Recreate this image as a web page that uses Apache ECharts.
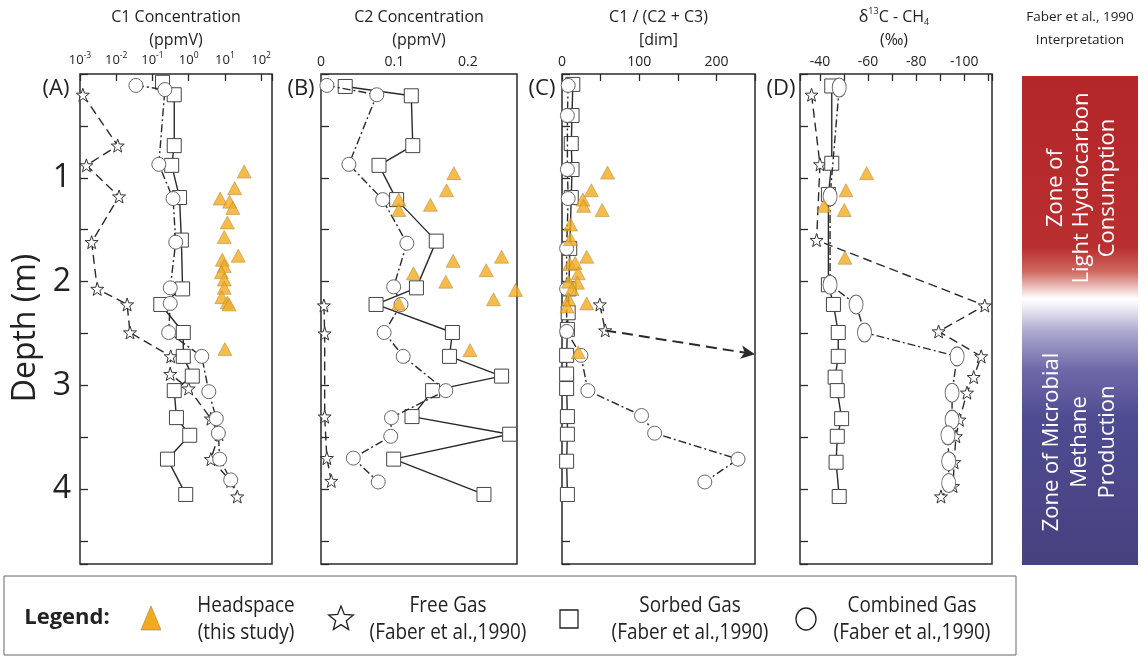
<!DOCTYPE html>
<html>
<head>
<meta charset="utf-8">
<script src="https://cdn.jsdelivr.net/npm/echarts@6/dist/echarts.min.js"></script>
<style>
html,body{margin:0;padding:0;background:#fff;}
#chart{width:1148px;height:659px;}
</style>
</head>
<body>
<div id="chart"></div>
<script>
// ---------- DATA: [depth (m), value] ----------
// Panel A: C1 concentration (ppmV, log scale)
const c1Free = [[0.2,0.0012],[0.69,0.011],[0.88,0.0015],[1.18,0.012],[1.62,0.0021],[2.07,0.003],[2.22,0.02],[2.49,0.024],[2.72,0.32],[2.89,0.31],[3.03,1.0],[3.32,4.1],[3.47,6.9],[3.71,4.1],[3.92,14.5],[4.07,22]];
const c1Sorbed = [[0.08,0.19],[0.2,0.40],[0.69,0.40],[0.88,0.34],[1.19,0.56],[1.6,0.63],[2.07,0.68],[2.22,0.17],[2.49,0.71],[2.72,0.71],[2.91,1.26],[3.05,0.40],[3.31,0.46],[3.48,1.07],[3.71,0.26],[4.05,0.83]];
const c1Combined = [[0.11,0.035],[0.15,0.22],[0.87,0.15],[1.2,0.37],[1.62,0.44],[2.06,0.31],[2.21,0.31],[2.49,0.28],[2.72,2.3],[3.06,3.6],[3.32,5.8],[3.46,6.6],[3.71,7.2],[3.91,14.5]];
const c1Headspace = [[0.94,34],[1.10,18.6],[1.20,7.4],[1.23,13.5],[1.29,16.6],[1.43,11.7],[1.57,9.6],[1.75,23.4],[1.79,8.5],[1.85,9.6],[1.91,8.0],[1.98,9.6],[2.06,9.6],[2.15,8.2],[2.2,11.7],[2.22,13],[2.65,10]];
// Panel B: C2 concentration (ppmV)
const c2Free = [[2.23,0.004],[2.5,0.005],[3.3,0.005],[3.7,0.008],[3.92,0.014]];
const c2Sorbed = [[0.12,0.033],[0.21,0.123],[0.69,0.125],[0.88,0.079],[1.21,0.103],[1.61,0.157],[2.06,0.130],[2.22,0.075],[2.49,0.179],[2.72,0.175],[2.91,0.246],[3.05,0.152],[3.30,0.124],[3.47,0.257],[3.71,0.099],[4.05,0.222]];
const c2Combined = [[0.11,0.008],[0.2,0.076],[0.87,0.038],[1.21,0.084],[1.63,0.117],[2.05,0.099],[2.22,0.109],[2.49,0.086],[2.72,0.112],[3.05,0.170],[3.31,0.096],[3.49,0.095],[3.7,0.044],[3.93,0.078]];
const c2Headspace = [[0.955,0.181],[1.12,0.171],[1.21,0.106],[1.26,0.149],[1.31,0.106],[1.76,0.246],[1.80,0.18],[1.89,0.225],[1.92,0.126],[2.0,0.170],[2.08,0.265],[2.17,0.235],[2.21,0.106],[2.66,0.203]];
// Panel C: C1/(C2+C3)
const ratioFree = [[2.22,49],[2.47,56]];
const ratioFreeOffscale = [[2.47,56],[2.70,250]];
const ratioSorbed = [[0.1,14],[0.4,13],[0.67,12],[0.92,13],[1.19,12],[1.68,10],[2.07,9],[2.3,8],[2.46,7],[2.71,6],[2.89,6],[3.03,6],[3.3,7],[3.47,7],[3.73,6],[4.05,7]];
const ratioCombined = [[0.11,8],[0.4,7],[0.92,7],[1.2,8],[1.68,6],[2.07,6],[2.48,6],[2.71,24.5],[3.05,33.5],[3.29,103],[3.46,120],[3.71,228],[3.93,185]];
const ratioHeadspace = [[0.95,59],[1.12,38],[1.21,27],[1.27,28],[1.31,52],[1.45,11],[1.59,11],[1.76,32],[1.83,10],[1.82,17],[1.92,21],[2.0,8.5],[2.01,20],[2.07,13],[2.17,8.5],[2.24,6.5],[2.21,32],[2.68,21]];
// Panel D: d13C-CH4 (permil)
const isoFree = [[0.2,-36.5],[0.87,-40],[1.6,-38.6],[2.23,-108.5],[2.48,-89.3],[2.72,-107],[2.92,-103.9],[3.07,-101.1],[3.33,-98],[3.49,-96.5],[3.74,-95.8],[3.97,-95.3],[4.07,-90.3]];
const isoSorbed = [[0.115,-44.9],[0.86,-44.9],[1.16,-43.5],[2.03,-43.5],[2.22,-45.6],[2.49,-47.6],[2.72,-47.6],[2.92,-46.3],[3.05,-47.2],[3.32,-49],[3.49,-47.2],[3.74,-46.7],[4.07,-48]];
const isoCombined = [[0.13,-48],[1.18,-44.2],[2.03,-44.2],[2.22,-55],[2.49,-58.5],[2.72,-97],[3.07,-94.9],[3.33,-94.9],[3.48,-93.2],[3.73,-93.5],[3.94,-93.5]];
const isoHeadspace = [[0.955,-59.4],[1.12,-50.8],[1.27,-41.7],[1.31,-50.1],[1.77,-50.4]];

const panelTitles = [['C1 Concentration','(ppmV)'],['C2 Concentration','(ppmV)'],['C1 / (C2 + C3)','[dim]'],['δ13C - CH4','(‰)']];
const panelLetters = ['(A)','(B)','(C)','(D)'];
const depthLabels = [1,2,3,4];
const legendItems = [['Headspace','(this study)'],['Free Gas','(Faber et al.,1990)'],['Sorbed Gas','(Faber et al.,1990)'],['Combined Gas','(Faber et al.,1990)']];
const zoneTexts = ['Zone of\nLight Hydrocarbon\nConsumption','Zone of Microbial\nMethane\nProduction'];

// ---------- LAYOUT ----------
const FONT = '"Open Sans", "Noto Sans", sans-serif';
const NARROW = '"Liberation Sans Narrow", "Open Sans", sans-serif';
const grids = [
  {left:80, top:74, width:192, height:490},
  {left:321, top:74, width:196, height:490},
  {left:562, top:74, width:193, height:490},
  {left:800, top:74, width:192, height:490}
];
const STAR = 'path://M0,-10 L2.35,-3.24 L9.51,-3.09 L3.8,1.24 L5.88,8.09 L0,4.2 L-5.88,8.09 L-3.8,1.24 L-9.51,-3.09 L-2.35,-3.24 Z';
const INK = '#2a2a2a';

function flip(arr){ return arr.map(p => [p[1], p[0]]); }

function lineSeries(kind, gi, arr, extra){
  const base = {type:'line', xAxisIndex:gi, yAxisIndex:gi, data:flip(arr), silent:true, showSymbol:true, z:2};
  if (kind==='free') Object.assign(base,{symbol:STAR, symbolSize:13, lineStyle:{color:INK,width:1.4,type:[9,5]}, itemStyle:{color:'#fff',borderColor:'#333',borderWidth:1}});
  if (kind==='sorbed') Object.assign(base,{symbol:'rect', symbolSize:14, lineStyle:{color:INK,width:1.4,type:'solid'}, itemStyle:{color:'#fff',borderColor:'#444',borderWidth:1}, z:3});
  if (kind==='combined') Object.assign(base,{symbol:'circle', symbolSize:gi===3?[14,19]:14, lineStyle:{color:INK,width:1.4,type:[8,3,2,3]}, itemStyle:{color:'#fff',borderColor:'#666',borderWidth:1}, z:4});
  if (kind==='head') Object.assign(base,{type:'scatter', symbol:'triangle', symbolSize:[14,13], itemStyle:{color:'#f2ab1f',borderColor:'#a8802e',borderWidth:0.6}, z:5});
  return Object.assign(base, extra||{});
}

function yAxisFor(i){
  return {
    type:'value', gridIndex:i, inverse:true, min:0, max:4.72, interval:0.5,
    axisLine:{show:false}, splitLine:{show:false},
    axisTick:{show:true, inside:true, length:8, lineStyle:{color:INK,width:1.3}},
    axisLabel:{show:i===0, margin:9, fontSize:32, color:'#222', fontFamily:FONT,
      formatter: v => depthLabels.indexOf(v)>=0 ? String(v) : ''}
  };
}

const labelBase = {fontSize:13, color:'#222', fontFamily:FONT, margin:5};
const xAxes = [
  {type:'log', logBase:10, gridIndex:0, position:'top', min:0.001, max:200,
   axisLine:{show:false}, splitLine:{show:false},
   axisTick:{show:true, inside:true, length:7, lineStyle:{color:INK,width:1.3}},
   axisLabel:Object.assign({}, labelBase, {
     formatter: v => { const l=Math.log10(v), e=Math.round(l); if (Math.abs(l-e)>1e-6) return ''; return '{b|10}{s|'+e+'}'; },
     rich:{b:{fontSize:13,lineHeight:18,fontFamily:FONT,color:'#222'}, s:{fontSize:8.5,lineHeight:10,verticalAlign:'top',fontFamily:FONT,color:'#222'}}
   })},
  {type:'value', gridIndex:1, position:'top', min:0, max:0.267, interval:0.1,
   axisLine:{show:false}, splitLine:{show:false}, axisTick:{show:false},
   axisLabel:Object.assign({}, labelBase, {fontSize:14, formatter: v => { const t=Math.round(v*10); return Math.abs(v*10-t)<1e-6 && t<=2 ? (t===0?'0':String(t/10)) : ''; }})},
  {type:'value', gridIndex:2, position:'top', min:0, max:250, interval:50,
   axisLine:{show:false}, splitLine:{show:false},
   axisTick:{show:true, inside:true, length:7, lineStyle:{color:INK,width:1.3}},
   axisLabel:Object.assign({}, labelBase, {fontSize:14, formatter: v => (v%100===0 && v<=200) ? String(v) : ''})},
  {type:'value', gridIndex:3, position:'top', inverse:true, min:-111.5, max:-31.7, splitNumber:8,
   axisLine:{show:false}, splitLine:{show:false},
   axisTick:{show:true, inside:true, length:7, lineStyle:{color:INK,width:1.3}},
   axisLabel:Object.assign({}, labelBase, {fontSize:14, formatter: v => (Math.abs(v%20)<1e-6 && v<=-40 && v>=-100) ? String(v) : ''})}
];

const series = [
  lineSeries('free',0,c1Free), lineSeries('sorbed',0,c1Sorbed), lineSeries('combined',0,c1Combined), lineSeries('head',0,c1Headspace),
  lineSeries('free',1,c2Free), lineSeries('sorbed',1,c2Sorbed), lineSeries('combined',1,c2Combined), lineSeries('head',1,c2Headspace),
  lineSeries('free',2,ratioFree,{markLine:{silent:true, symbol:['none','arrow'], symbolSize:[10,14], label:{show:false},
     lineStyle:{color:INK,width:2,type:[11,6]},
     data:[[{coord:flip(ratioFreeOffscale)[0]},{coord:flip(ratioFreeOffscale)[1]}]]}}),
  lineSeries('sorbed',2,ratioSorbed), lineSeries('combined',2,ratioCombined), lineSeries('head',2,ratioHeadspace),
  lineSeries('free',3,isoFree), lineSeries('sorbed',3,isoSorbed), lineSeries('combined',3,isoCombined), lineSeries('head',3,isoHeadspace)
];

// ---------- GRAPHICS (titles, labels, zone bar, legend) ----------
const graphic = [];
function txt(x,y,text,font,opts){
  graphic.push(Object.assign({type:'text', x:x, y:y, silent:true,
    style:Object.assign({text:text, font:font, fill:'#222', align:'center', verticalAlign:'middle', textAlign:'center', textVerticalAlign:'middle'}, (opts&&opts.style)||{})},
    opts&&opts.el||{}));
}
const centers = grids.map(g => g.left + g.width/2);
panelTitles.forEach((t,i) => {
  if (i===3){
    graphic.push({type:'text', x:894, y:17, silent:true, style:{text:'{n|δ}{u|13}{n|C - CH}{d|4}', align:'center', verticalAlign:'middle', textAlign:'center', textVerticalAlign:'middle',
      rich:{n:{fontSize:16,lineHeight:20,fontFamily:FONT,fill:'#222',color:'#222'}, u:{fontSize:9,lineHeight:11,verticalAlign:'top',fontFamily:FONT,fill:'#222',color:'#222'}, d:{fontSize:9,lineHeight:10,verticalAlign:'bottom',fontFamily:FONT,fill:'#222',color:'#222'}}}});
  } else {
    txt(centers[i], 17, t[0], '16px '+FONT);
  }
  txt(i===3?894:centers[i], 40, t[1], '16px '+FONT);
});
const letterX = [56,301,542,781];
panelLetters.forEach((l,i) => txt(letterX[i], 89, l, '22px '+FONT));
txt(26, 328, 'Depth (m)', '32px '+FONT, {el:{rotation:Math.PI/2}});
txt(1080, 17, 'Faber et al., 1990', '13.5px '+FONT);
txt(1080, 40, 'Interpretation', '13.5px '+FONT);
graphic.push({type:'rect', silent:true, shape:{x:1022,y:76,width:116,height:489},
  style:{fill:new echarts.graphic.LinearGradient(0,0,0,1,[
    {offset:0,color:'#b3262a'},{offset:0.35,color:'#b92e2f'},{offset:0.40,color:'#cf6a60'},{offset:0.455,color:'#ffffff'},
    {offset:0.47,color:'#f2f1f8'},{offset:0.52,color:'#aeabd0'},{offset:0.60,color:'#6e6aa8'},{offset:0.70,color:'#4f4b92'},{offset:1,color:'#46427f'}])}});
txt(1082, 188, zoneTexts[0], '22px '+FONT, {style:{fill:'#fff', lineHeight:26}, el:{rotation:Math.PI/2}});
txt(1080, 442, zoneTexts[1], '22px '+FONT, {style:{fill:'#fff', lineHeight:28}, el:{rotation:Math.PI/2}});

// legend
graphic.push({type:'rect', silent:true, shape:{x:4,y:576,width:1012,height:79}, style:{fill:'none', stroke:'#666', lineWidth:1}});
txt(67, 618, 'Legend:', 'bold 22px '+NARROW);
graphic.push({type:'polygon', silent:true, shape:{points:[[151,606],[141,630],[161,630]]}, style:{fill:'#f2ab1f', stroke:'#a8802e', lineWidth:0.6}});
(function(){
  const pts=[]; const cx=341, cy=619, R=13, r=5.6;
  for (let k=0;k<10;k++){ const a=-Math.PI/2+k*Math.PI/5; const rr=k%2?r:R; pts.push([cx+rr*Math.cos(a), cy+rr*Math.sin(a)]); }
  graphic.push({type:'polygon', silent:true, shape:{points:pts}, style:{fill:'#fff', stroke:'#222', lineWidth:1.3}});
})();
graphic.push({type:'rect', silent:true, shape:{x:560,y:610,width:18,height:18}, style:{fill:'#fff', stroke:'#222', lineWidth:1.3}});
graphic.push({type:'ellipse', silent:true, shape:{cx:806,cy:619,rx:10,ry:11}, style:{fill:'#fff', stroke:'#222', lineWidth:1.3}});
const legendTextX = [246,448,690,912];
legendItems.forEach((t,i) => {
  txt(legendTextX[i], 606, t[0], '21px '+NARROW, {el:{scaleX:0.9, scaleY:1}});
  txt(legendTextX[i], 633, t[1], '21px '+NARROW, {el:{scaleX:0.9, scaleY:1}});
});

const option = {
  animation:false,
  backgroundColor:'#fff',
  grid: grids.map(g => Object.assign({show:true, borderColor:INK, borderWidth:1.5, backgroundColor:'transparent'}, g)),
  xAxis: xAxes,
  yAxis: [0,1,2,3].map(yAxisFor),
  series: series,
  graphic: graphic
};
const chart = echarts.init(document.getElementById('chart'), null, {renderer:'canvas'});
chart.setOption(option);
</script>
</body>
</html>
